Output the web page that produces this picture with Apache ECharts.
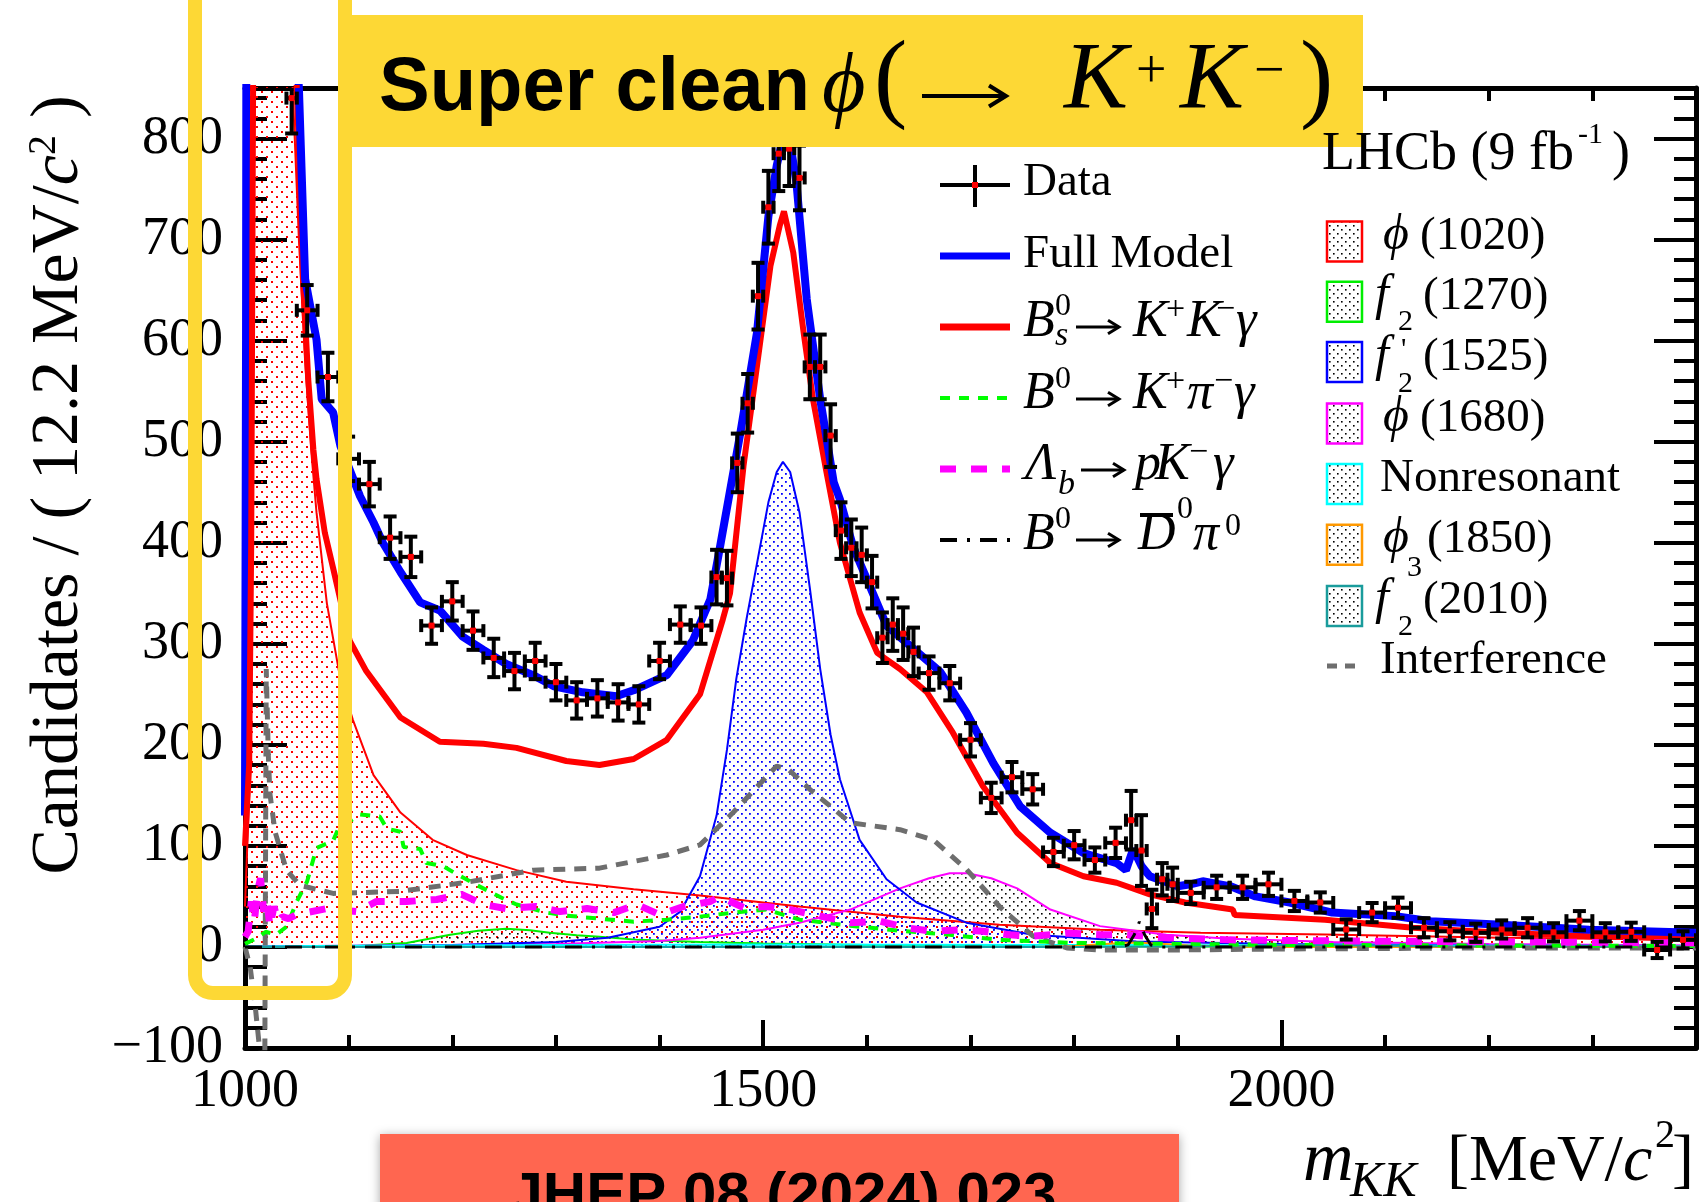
<!DOCTYPE html>
<html>
<head>
<meta charset="utf-8">
<script src="https://cdn.jsdelivr.net/npm/echarts@6/dist/echarts.min.js"></script>
<style>
  html, body { margin: 0; padding: 0; background: #fff; }
  #chart { width: 1700px; height: 1202px; }
</style>
</head>
<body>
<div id="chart"></div>
<script>
// data points: bin centre (MeV), candidates per 12.2 MeV, error, bin half width
const dataMass = [1045,
  1060, 1080, 1100, 1120, 1140, 1160, 1180, 1200, 1220, 1240, 1260, 1280, 1300, 1320, 1340, 1360, 1380, 1400, 1420, 1440,
  1455, 1465, 1475, 1485, 1495, 1505, 1515, 1525, 1535, 1545, 1555, 1565, 1575, 1585, 1595, 1605, 1615, 1625, 1635, 1645,
  1660, 1680, 1700, 1720, 1740, 1760, 1780, 1800, 1820, 1840,
  1855, 1865, 1875, 1885, 1895,
  1912.5, 1937.5, 1962.5, 1987.5, 2012.5, 2037.5, 2062.5, 2087.5, 2112.5, 2137.5, 2162.5, 2187.5, 2212.5, 2237.5, 2262.5, 2287.5, 2312.5, 2337.5, 2362.5, 2387.5];
const dataVal = [840,
  630, 564, 483, 458, 405, 386, 318, 342, 313, 286, 273, 283, 262, 244, 246, 242, 240, 283, 319, 318,
  366, 365, 479, 538, 644, 732, 785, 790, 761, 574, 574, 506, 412, 395, 388, 361, 306, 319, 310, 292,
  271, 261, 205, 147.5, 168, 156, 94, 100.7, 86, 103,
  125.4, 95.4, 37.6, 67, 62,
  53.5, 59, 59, 62, 45.5, 44, 17.3, 34, 38.8, 19, 15.5, 14, 17.3, 19, 14.5, 26, 14.5, 15, -3, 7];
const dataErr = [35,
  25, 24, 22, 22, 21, 20, 18, 19, 19, 19, 18, 18, 18, 18, 18, 18, 18, 18, 18, 18,
  27, 27, 29, 29, 33, 36, 37, 37, 32, 32, 32, 31, 28, 28, 27, 26, 25, 26, 26, 24,
  16.5, 17, 16.5, 15, 15, 15, 14, 14, 12.5, 15,
  29, 35, 19, 16, 16.5,
  11, 11.5, 11.5, 11.5, 10, 10, 10, 9.5, 10, 9.5, 9, 9, 9, 9.5, 9, 9.5, 9, 9, 8, 8.5];
const binHalf = [5,
  10, 10, 10, 10, 10, 10, 10, 10, 10, 10, 10, 10, 10, 10, 10, 10, 10, 10, 10, 10,
  5, 5, 5, 5, 5, 5, 5, 5, 5, 5, 5, 5, 5, 5, 5, 5, 5, 5, 5, 5,
  10, 10, 10, 10, 10, 10, 10, 10, 10, 10,
  5, 5, 5, 5, 5,
  12.5, 12.5, 12.5, 12.5, 12.5, 12.5, 12.5, 12.5, 12.5, 12.5, 12.5, 12.5, 12.5, 12.5, 12.5, 12.5, 12.5, 12.5, 12.5, 12.5];

// fit components [mass, value]
const fullModel = [[1000,130],[1001,600],[1002,1500],[1005,4000],[1010,8000],[1015,12000],[1020,15500],[1025,8200],[1030,3600],[1036,1700],[1041,1150],[1046,950],[1052,850],[1058,661],[1069,601],[1074,542],[1085,529],[1092,496],[1111,446],[1124,420],[1133,400],[1150,371],[1169,341],[1188,333],[1210,307],[1230,294],[1252,280],[1278,269],[1298,258],[1326,252],[1358,248],[1375,254],[1407,269],[1432,303],[1449,344],[1458,394],[1478,509],[1494,608],[1505,723],[1513,773],[1520,805],[1526,795],[1532,757],[1542,641],[1555,542],[1568,460],[1574,443],[1587,395],[1600,364],[1619,318],[1645,295],[1671,272],[1696,232],[1722,182],[1748,139],[1777,113],[1809,93],[1841,83],[1850,76],[1857,97],[1865,80],[1873,70],[1900,60],[1912,62],[1924,65],[1951,60],[1975,50],[2008,44],[2049,34],[2110,30.5],[2144,25.5],[2212,22],[2297,17],[2400,14]];
const bsKKg = [[1000,100],[1004,180],[1006,400],[1008,900],[1011,2600],[1015,8000],[1020,15000],[1025,8000],[1030,3500],[1036,1650],[1041,1100],[1046,920],[1050,850],[1056,661],[1061,562],[1066,492],[1069,463],[1077,410],[1085,375],[1101,303],[1117,273],[1150,227],[1188,203],[1230,201],[1262,197],[1310,184],[1342,180],[1375,186],[1407,205],[1439,250],[1461,324],[1468,350],[1481,476],[1494,575],[1507,674],[1516,714],[1520,728],[1529,687],[1539,608],[1548,542],[1561,470],[1574,400],[1593,331],[1610,291],[1632,275],[1658,252],[1683,212],[1712,159],[1745,113],[1777,83],[1809,70],[1841,63.5],[1873,52],[1907,44],[1953,37],[1955,31.5],[2042,27],[2127,19],[2212,14],[2297,10.7],[2400,8]];
const phi1020 = [[1000,40],[1004,150],[1006,380],[1008,880],[1011,2500],[1015,8000],[1020,15000],[1025,8000],[1030,3500],[1036,1600],[1041,1050],[1046,850],[1052,700],[1058,580],[1064,490],[1069,430],[1079,340],[1092,265],[1104,225],[1124,170],[1150,133],[1181,106],[1214,91],[1262,76],[1310,64.5],[1375,57],[1439,51],[1535,40],[1632,30],[1728,22],[1825,17],[1922,14],[2042,12.4],[2212,9],[2400,7]];
const f2_1270 = [[1000,0],[1100,0.5],[1156,4],[1198,12],[1225,16],[1252,18],[1275,16.5],[1294,14],[1320,11.5],[1342,10],[1380,7],[1439,5],[1500,3.5],[1600,2],[1800,0.8],[2000,0.3],[2400,0]];
const f2p1525 = [[1000,0],[1200,2],[1300,5],[1350,9],[1400,20],[1420,35],[1439,70],[1455,130],[1465,195],[1474,265],[1484,325],[1495,385],[1505,440],[1513,470],[1519,480],[1526,470],[1535,430],[1545,355],[1555,275],[1565,210],[1574,166],[1593,106],[1619,67],[1648,44],[1696,24],[1760,12],[1860,5.5],[2000,3],[2200,1.5],[2400,1]];
const phi1680 = [[1000,0.5],[1200,2],[1300,3],[1400,6],[1439,9],[1500,17],[1535,24],[1584,37],[1632,58],[1660,68],[1680,73],[1697,73],[1720,68],[1745,58],[1777,37],[1825,20.6],[1889,12],[1950,8],[2050,5],[2200,3],[2400,1.5]];
const nonRes = [[1000,0.5],[1100,1.2],[1300,2],[1500,2.5],[1800,2],[2100,1.5],[2400,1]];
const phi3_1850 = [[1000,0],[1760,0],[1800,1],[1830,3],[1855,4.5],[1880,3.5],[1910,1.5],[1960,0.3],[2000,0],[2400,0]];
const f2_2010 = [[1000,0],[1800,0],[1900,0.5],[1960,1.2],[2010,2],[2070,1.5],[2150,0.8],[2300,0.3],[2400,0.2]];
const interference = [[1000,0],[1005,-20],[1010,-60],[1015,-110],[1018.5,-300],[1019.5,0],[1020.5,275],[1022.5,190],[1024,152],[1029,114],[1040,76],[1053,61],[1085,53],[1150,55],[1214,64],[1278,76],[1342,78],[1407,91],[1439,101],[1471,133],[1500,165],[1513,179],[1525,175],[1545,156],[1584,123],[1632,116],[1664,106],[1696,77],[1728,40],[1760,11],[1793,-1],[1825,-3],[1900,-3],[2000,-2],[2200,-1],[2400,-1]];
const b0Kpig = [[1000,3],[1010,8],[1020,15],[1030,12],[1040,20],[1050,45],[1060,65],[1069,98],[1085,105],[1090,117],[1111,131],[1130,129],[1137,117],[1150,114],[1153,99],[1169,97],[1175,83],[1191,80],[1201,74],[1224,61],[1249,48],[1262,42],[1291,34],[1310,31],[1342,28],[1375,25],[1407,27],[1439,30],[1471,34],[1503,37],[1535,27],[1584,21],[1632,16],[1680,12],[1728,7],[1800,4],[1900,3],[2000,2],[2200,1.5],[2400,1]];
const lbpKg = [[1000,10],[1003,15],[1006,45],[1009,25],[1012,55],[1015,68],[1018,35],[1021,48],[1024,20],[1028,40],[1032,25],[1036,30],[1042,28],[1050,32],[1079,38],[1108,35],[1127,45],[1156,45],[1185,47],[1209,52],[1230,42],[1252,38],[1281,40],[1304,35],[1330,38],[1356,34],[1378,42],[1400,32],[1423,40],[1449,45],[1458,50],[1481,39],[1503,40],[1526,37],[1555,30.5],[1584,24],[1613,25.5],[1638,19],[1664,15.5],[1690,17],[1712,15.5],[1738,12],[1760,10.6],[1793,13.7],[1825,12],[1851,12],[1889,9],[1950,7],[2050,6],[2200,5],[2400,4]];
const b0D0pi0 = [[1000,0],[1845,0],[1852,2],[1858,12],[1863,25],[1868,12],[1874,2],[1882,0],[2400,0]];

const SERIF = '"Liberation Serif", "DejaVu Serif", serif';
const SANS = '"Liberation Sans", "DejaVu Sans", sans-serif';
const YEL = '#FDD835';

function dots(color, step, size, bg) {
  const c = document.createElement('canvas');
  c.width = step; c.height = step;
  const g = c.getContext('2d');
  if (bg) { g.fillStyle = bg; g.fillRect(0, 0, step, step); }
  g.fillStyle = color;
  g.fillRect(1, 1, size, size);
  g.fillRect(1 + step / 2, 1 + step / 2, size, size);
  return { image: c, repeat: 'repeat' };
}

function curve(data, color, width, extra) {
  return Object.assign({
    type: 'line', data: data, symbol: 'none', silent: true, clip: true,
    lineStyle: { color: color, width: width }
  }, extra || {});
}

// graphic helpers
const G = [];
function txt(x, base, s, size, o) {
  o = o || {};
  G.push({
    type: 'text', z: 100, x: x, y: base - 0.34 * size,
    style: {
      text: s, fill: o.color || '#000',
      font: (o.italic ? 'italic ' : '') + (o.bold ? 'bold ' : '') + size + 'px ' + (o.sans ? SANS : SERIF),
      textAlign: o.align || 'left', textVerticalAlign: 'middle',
      align: o.align || 'left', verticalAlign: 'middle'
    }
  });
}
function seg(x1, y1, x2, y2, color, w, dash) {
  G.push({ type: 'line', z: 100, shape: { x1: x1, y1: y1, x2: x2, y2: y2 },
    style: { stroke: color, lineWidth: w, lineDash: dash || null } });
}
function arrow(x1, x2, y, w, head) {
  seg(x1, y, x2, y, '#000', w);
  G.push({ type: 'polyline', z: 100,
    shape: { points: [[x2 - head, y - head * 0.62], [x2, y], [x2 - head, y + head * 0.62]] },
    style: { stroke: '#000', lineWidth: w, fill: null } });
}
const it = { italic: true };

// highlight and title box
G.push({ type: 'rect', z: 99, shape: { x: 195, y: -40, width: 150, height: 1033, r: 18 },
  style: { fill: 'transparent', stroke: YEL, lineWidth: 14 } });
G.push({ type: 'rect', z: 100, shape: { x: 338, y: 15, width: 1025, height: 132 }, style: { fill: YEL } });
txt(379, 115, 'Super clean', 76, { sans: true, bold: true });
txt(822, 117, 'ϕ', 84, it);
txt(874, 117, '(', 100);
arrow(922, 1006, 96, 4, 17);
txt(1064, 115, 'K', 96, it);
txt(1136, 91, '+', 54);
txt(1180, 115, 'K', 96, it);
txt(1254, 91, '−', 54);
txt(1300, 117, ')', 100);

// bottom reference box
G.push({ type: 'rect', z: 100, shape: { x: 380, y: 1134, width: 799, height: 100 },
  style: { fill: '#FF6650', shadowBlur: 10, shadowColor: 'rgba(0,0,0,0.35)', shadowOffsetY: 2 } });
txt(783, 1218, 'JHEP 08 (2024) 023', 60, { sans: true, bold: true, align: 'center' });

// axis titles
G.push({
  type: 'text', z: 100, x: 59, y: 485, rotation: Math.PI / 2,
  style: {
    text: '{a|Candidates / ( 12.2 MeV/}{i|c}{s|2}{a| )}',
    textAlign: 'center', textVerticalAlign: 'middle', align: 'center', verticalAlign: 'middle',
    rich: {
      a: { fontSize: 68, fontFamily: SERIF, fill: '#000', color: '#000' },
      i: { fontSize: 68, fontFamily: SERIF, fontStyle: 'italic', fill: '#000', color: '#000' },
      s: { fontSize: 40, fontFamily: SERIF, fill: '#000', color: '#000', padding: [0, 0, 30, 0] }
    }
  }
});
txt(1303, 1185, 'm', 70, it);
txt(1350, 1200, 'KK', 50, it);
txt(1447, 1185, '[MeV/', 66);
txt(1623, 1185, 'c', 66, it);
txt(1655, 1150, '2', 40);
txt(1694, 1185, ']', 66, { align: 'right' });

// legend: components
seg(940, 185, 1010, 185, '#000', 4);
seg(975, 165, 975, 207, '#000', 4);
G.push({ type: 'rect', z: 101, shape: { x: 972, y: 182, width: 6, height: 6 }, style: { fill: '#ff0000' } });
seg(940, 256, 1010, 256, '#0000ff', 7);
seg(940, 327, 1010, 327, '#ff0000', 7);
seg(940, 398, 1010, 398, '#00ff00', 4, [10, 9]);
seg(940, 469, 1010, 469, '#ff00ff', 7, [16, 15]);
seg(940, 540, 1010, 540, '#000', 4, [17, 10, 3, 10]);
txt(1023, 199, 'Data', 47);
txt(1023, 271, 'Full Model', 47);
txt(1023, 340, 'B', 52, it); txt(1055, 317, '0', 32); txt(1055, 348, 's', 34, it);
arrow(1076, 1119, 327, 3, 11);
txt(1133, 340, 'K', 52, it); txt(1166, 322, '+', 34);
txt(1187, 340, 'K', 52, it); txt(1216, 322, '−', 34); txt(1236, 340, 'γ', 52, it);
txt(1023, 412, 'B', 52, it); txt(1055, 390, '0', 32);
arrow(1076, 1119, 399, 3, 11);
txt(1133, 412, 'K', 52, it); txt(1166, 394, '+', 34);
txt(1187, 412, 'π', 52, it); txt(1214, 394, '−', 34); txt(1234, 412, 'γ', 52, it);
txt(1025, 483, 'Λ', 52, it); txt(1058, 497, 'b', 34, it);
arrow(1081, 1124, 470, 3, 11);
txt(1135, 483, 'p', 52, it); txt(1155, 483, 'K', 52, it);
txt(1189, 465, '−', 34); txt(1213, 483, 'γ', 52, it);
txt(1023, 553, 'B', 52, it); txt(1055, 530, '0', 32);
arrow(1076, 1119, 540, 3, 11);
txt(1138, 553, 'D', 52, it);
seg(1140, 515, 1173, 515, '#000', 4);
txt(1177, 520, '0', 32); txt(1193, 553, 'π', 52, it); txt(1225, 537, '0', 32);

// legend: resonances
txt(1322, 173, 'LHCb (9 fb', 54); txt(1578, 145, '-1', 30); txt(1612, 173, ')', 54);
const boxRows = [
  [241.6, '#ff0000'], [301.7, '#00ee00'], [362, '#0000ff'], [423.4, '#ff00ff'],
  [483.9, '#00ffff'], [544.7, '#ff9900'], [605.9, '#1a9c9c']
];
const boxFill = dots('#000', 8, 1.6, '#fff');
boxRows.forEach(function (r) {
  G.push({ type: 'rect', z: 100, shape: { x: 1327, y: r[0] - 20, width: 35, height: 40 },
    style: { fill: boxFill, stroke: r[1], lineWidth: 2.5 } });
});
txt(1383, 253, 'ϕ', 50, it); txt(1420, 253, '(1020)', 47);
txt(1375, 313, 'f', 50, it); txt(1398, 332, '2', 30); txt(1423, 313, '(1270)', 47);
txt(1375, 374, 'f', 50, it); txt(1401, 360, "'", 30); txt(1398, 394, '2', 30); txt(1423, 374, '(1525)', 47);
txt(1383, 435, 'ϕ', 50, it); txt(1420, 435, '(1680)', 47);
txt(1380, 495, 'Nonresonant', 47);
txt(1383, 556, 'ϕ', 50, it); txt(1407, 578, '3', 30); txt(1427, 556, '(1850)', 47);
txt(1375, 617, 'f', 50, it); txt(1398, 637, '2', 30); txt(1423, 617, '(2010)', 47);
seg(1327, 666, 1357, 666, '#6e6e6e', 5, [10, 8]);
txt(1380, 677, 'Interference', 47);

// axes: major + minor tick axes on every side
function xAx(pos, interval, len, labels, line) {
  return {
    type: 'value', position: pos, min: 1000, max: 2400, interval: interval,
    axisLine: { show: line, onZero: false, lineStyle: { color: '#000', width: 5 } },
    axisTick: { show: true, inside: true, length: len, lineStyle: { color: '#000', width: 4 } },
    axisLabel: labels ? {
      margin: 17, fontFamily: 'Liberation Serif', fontSize: 54, color: '#000',
      formatter: function (v) { return v % 500 === 0 ? String(v) : ''; }
    } : { show: false },
    splitLine: { show: false }
  };
}
function yAx(pos, interval, len, labels, line) {
  return {
    type: 'value', position: pos, min: -100, max: 850, interval: interval,
    axisLine: { show: line, onZero: false, lineStyle: { color: '#000', width: 5 } },
    axisTick: { show: true, inside: true, length: len, lineStyle: { color: '#000', width: 4 } },
    axisLabel: labels ? {
      margin: 22, fontFamily: 'Liberation Serif', fontSize: 54, color: '#000',
      formatter: function (v) { return v % 100 === 0 ? (v < 0 ? '−' + (-v) : String(v)) : ''; }
    } : { show: false },
    splitLine: { show: false }
  };
}

const chart = echarts.init(document.getElementById('chart'), null, { renderer: 'canvas' });
chart.setOption({
  animation: false,
  backgroundColor: '#fff',
  textStyle: { fontFamily: SERIF },
  grid: { left: 245, top: 88, width: 1451, height: 960, show: false },
  xAxis: [xAx('bottom', 500, 28, true, true), xAx('bottom', 100, 13, false, false),
          xAx('top', 500, 28, false, true), xAx('top', 100, 13, false, false)],
  yAxis: [yAx('left', 100, 42, true, true), yAx('left', 20, 22, false, false),
          yAx('right', 100, 42, false, true), yAx('right', 20, 22, false, false)],
  series: [
    curve(phi1020, '#ff0000', 2, { areaStyle: { color: dots('#ff0000', 10, 2), opacity: 1 } }),
    curve(f2_1270, '#00ee00', 2, { areaStyle: { color: dots('#000', 8, 1.6), opacity: 1 } }),
    curve(phi1680, '#ff00ff', 2, { areaStyle: { color: dots('#000', 8, 1.6), opacity: 1 } }),
    curve(f2p1525, '#0000ff', 2, { areaStyle: { color: dots('#0000ff', 8, 1.8), opacity: 1 } }),
    curve(nonRes, '#00ffff', 2),
    curve(phi3_1850, '#ff9900', 2),
    curve(f2_2010, '#1a9c9c', 2),
    curve(interference, '#6e6e6e', 5, { lineStyle: { color: '#6e6e6e', width: 5, type: [12, 9] } }),
    curve(b0Kpig, '#00ff00', 4, { lineStyle: { color: '#00ff00', width: 4, type: [10, 9] } }),
    curve(lbpKg, '#ff00ff', 7, { lineStyle: { color: '#ff00ff', width: 7, type: [16, 15] } }),
    curve(b0D0pi0, '#000', 3, { lineStyle: { color: '#000', width: 3, type: [17, 10, 3, 10] } }),
    curve(fullModel, '#0000ff', 8),
    curve(bsKKg, '#ff0000', 6, { data: bsKKg.filter(function (p) { return p[0] <= 1050; }) }),
    curve(bsKKg, '#ff0000', 6, { data: bsKKg.filter(function (p) { return p[0] >= 1050; }), z: 1.5 }),
    {
      type: 'custom', z: 20, clip: true, silent: true,
      encode: { x: 0, y: 1 },
      data: dataMass.map(function (m, i) { return [m, dataVal[i], dataErr[i], binHalf[i]]; }),
      renderItem: function (params, api) {
        const m = api.value(0), v = api.value(1), e = api.value(2), w = api.value(3);
        const c = api.coord([m, v]);
        const top = api.coord([m, v + e])[1], bot = api.coord([m, v - e])[1];
        const xl = api.coord([m - w, v])[0], xr = api.coord([m + w, v])[0];
        const st = { stroke: '#000', lineWidth: 4 };
        const k = 6.5;
        return {
          type: 'group',
          children: [
            { type: 'line', shape: { x1: c[0], y1: top, x2: c[0], y2: bot }, style: st },
            { type: 'line', shape: { x1: xl, y1: c[1], x2: xr, y2: c[1] }, style: st },
            { type: 'line', shape: { x1: c[0] - k, y1: top, x2: c[0] + k, y2: top }, style: st },
            { type: 'line', shape: { x1: c[0] - k, y1: bot, x2: c[0] + k, y2: bot }, style: st },
            { type: 'line', shape: { x1: xl, y1: c[1] - k, x2: xl, y2: c[1] + k }, style: st },
            { type: 'line', shape: { x1: xr, y1: c[1] - k, x2: xr, y2: c[1] + k }, style: st },
            { type: 'rect', shape: { x: c[0] - 3, y: c[1] - 3, width: 6, height: 6 }, style: { fill: '#ff0000' } }
          ]
        };
      }
    }
  ],
  graphic: { elements: G }
});
</script>
</body>
</html>
